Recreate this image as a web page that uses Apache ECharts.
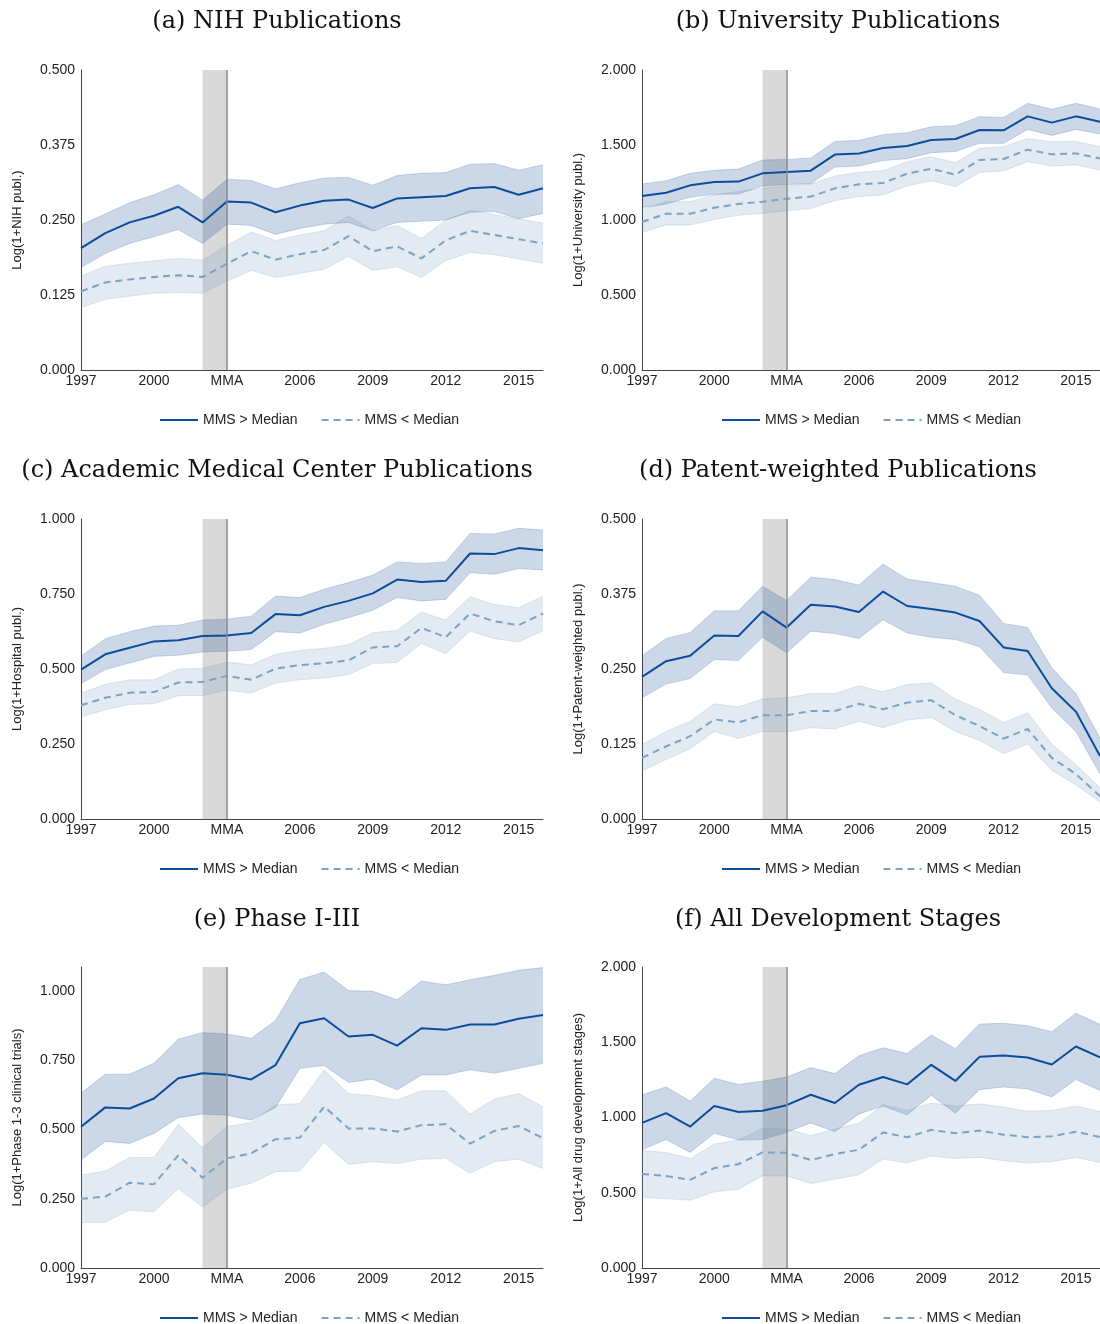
<!DOCTYPE html>
<html>
<head>
<meta charset="utf-8">
<script src="https://cdn.jsdelivr.net/npm/echarts@6/dist/echarts.min.js"></script>
<style>
html,body{margin:0;padding:0;background:#fff;}
#chart{width:1100px;height:1324px;}
</style>
</head>
<body>
<div id="chart"></div>
<script>
// ---------- data ----------
const years = ['1997','1998','1999','2000','2001','2002','2003','2004','2005','2006','2007','2008','2009','2010','2011','2012','2013','2014','2015','2016'];
const legendNames = ['MMS > Median', 'MMS < Median'];
const titles = ['(a) NIH Publications','(b) University Publications','(c) Academic Medical Center Publications','(d) Patent-weighted Publications','(e) Phase I-III','(f) All Development Stages'];
const yNames = ['Log(1+NIH publ.)','Log(1+University publ.)','Log(1+Hospital publ.)','Log(1+Patent-weighted publ.)','Log(1+Phase 1-3 clinical trials)','Log(1+All drug development stages)'];
const yMax = [0.5, 2, 1, 0.5, 1.087, 2];
const yInterval = [0.125, 0.5, 0.25, 0.125, 0.25, 0.5];

// (a)
const aHiMean = [0.203,0.228,0.246,0.257,0.272,0.246,0.281,0.279,0.263,0.274,0.282,0.284,0.270,0.286,0.288,0.290,0.303,0.305,0.292,0.303];
const aHiLo   = [0.171,0.194,0.211,0.222,0.234,0.211,0.243,0.241,0.226,0.236,0.243,0.246,0.232,0.246,0.248,0.250,0.263,0.264,0.252,0.261];
const aHiHi   = [0.242,0.260,0.279,0.292,0.309,0.283,0.318,0.316,0.302,0.312,0.320,0.321,0.308,0.324,0.328,0.329,0.343,0.344,0.333,0.342];
const aLoMean = [0.131,0.146,0.151,0.155,0.158,0.155,0.177,0.198,0.184,0.193,0.200,0.223,0.198,0.206,0.186,0.216,0.232,0.225,0.218,0.211];
const aLoLo   = [0.104,0.118,0.123,0.128,0.129,0.128,0.148,0.166,0.154,0.161,0.168,0.189,0.166,0.172,0.154,0.182,0.196,0.192,0.185,0.178];
const aLoHi   = [0.157,0.173,0.178,0.182,0.186,0.183,0.208,0.230,0.216,0.225,0.232,0.257,0.232,0.241,0.219,0.250,0.266,0.259,0.252,0.245];
// (b)
const bHiMean = [1.160,1.182,1.231,1.253,1.256,1.311,1.320,1.329,1.436,1.444,1.480,1.493,1.533,1.540,1.600,1.598,1.691,1.649,1.691,1.655];
const bHiLo   = [1.082,1.107,1.151,1.171,1.173,1.227,1.236,1.242,1.353,1.360,1.396,1.409,1.449,1.456,1.511,1.511,1.604,1.564,1.604,1.573];
const bHiHi   = [1.240,1.262,1.311,1.331,1.340,1.400,1.404,1.413,1.524,1.531,1.569,1.582,1.622,1.629,1.689,1.684,1.778,1.738,1.778,1.740];
const bLoMean = [0.987,1.042,1.042,1.082,1.107,1.122,1.142,1.156,1.211,1.238,1.247,1.309,1.342,1.302,1.400,1.407,1.469,1.438,1.444,1.410];
const bLoLo   = [0.916,0.967,0.967,1.004,1.031,1.044,1.062,1.076,1.129,1.156,1.167,1.227,1.262,1.222,1.316,1.327,1.389,1.360,1.367,1.333];
const bLoHi   = [1.067,1.122,1.124,1.167,1.191,1.211,1.227,1.240,1.293,1.318,1.329,1.389,1.422,1.382,1.478,1.489,1.544,1.522,1.524,1.490];
// (c)
const cHiMean = [0.498,0.549,0.571,0.592,0.596,0.610,0.612,0.620,0.683,0.679,0.707,0.727,0.752,0.798,0.790,0.794,0.885,0.883,0.903,0.896];
const cHiLo   = [0.451,0.498,0.520,0.542,0.546,0.557,0.559,0.565,0.624,0.620,0.649,0.671,0.696,0.738,0.727,0.732,0.821,0.816,0.835,0.830];
const cHiHi   = [0.543,0.601,0.624,0.643,0.646,0.663,0.666,0.676,0.743,0.738,0.766,0.788,0.813,0.857,0.852,0.857,0.952,0.950,0.969,0.963];
const cLoMean = [0.379,0.404,0.421,0.423,0.455,0.457,0.477,0.464,0.501,0.513,0.519,0.529,0.572,0.576,0.637,0.606,0.685,0.659,0.646,0.685];
const cLoLo   = [0.340,0.364,0.382,0.384,0.411,0.412,0.429,0.420,0.453,0.464,0.470,0.481,0.518,0.522,0.585,0.551,0.626,0.601,0.590,0.627];
const cLoHi   = [0.420,0.449,0.464,0.464,0.500,0.502,0.523,0.514,0.549,0.562,0.569,0.581,0.621,0.629,0.690,0.663,0.741,0.715,0.704,0.743];
// (d)
const dHiMean = [0.237,0.263,0.272,0.306,0.305,0.346,0.319,0.357,0.354,0.345,0.379,0.355,0.350,0.344,0.330,0.286,0.280,0.218,0.179,0.105];
const dHiLo   = [0.202,0.225,0.234,0.266,0.264,0.303,0.277,0.313,0.309,0.301,0.332,0.310,0.303,0.299,0.287,0.244,0.240,0.185,0.146,0.075];
const dHiHi   = [0.272,0.301,0.311,0.347,0.347,0.388,0.364,0.403,0.399,0.390,0.425,0.400,0.394,0.388,0.373,0.326,0.319,0.252,0.209,0.135];
const dLoMean = [0.102,0.121,0.138,0.166,0.161,0.173,0.173,0.180,0.180,0.192,0.183,0.194,0.198,0.173,0.155,0.134,0.150,0.102,0.075,0.038];
const dLoLo   = [0.080,0.099,0.117,0.146,0.134,0.146,0.145,0.152,0.150,0.163,0.152,0.165,0.169,0.146,0.131,0.109,0.125,0.081,0.057,0.028];
const dLoHi   = [0.124,0.146,0.163,0.192,0.187,0.200,0.202,0.209,0.209,0.222,0.212,0.224,0.227,0.200,0.183,0.161,0.177,0.125,0.091,0.052];
// (e)
const eHiMean = [0.510,0.580,0.576,0.612,0.685,0.703,0.698,0.681,0.733,0.884,0.902,0.836,0.842,0.803,0.866,0.860,0.879,0.879,0.900,0.914];
const eHiLo   = [0.390,0.457,0.450,0.486,0.543,0.556,0.552,0.534,0.580,0.721,0.731,0.670,0.682,0.643,0.697,0.697,0.716,0.703,0.721,0.739];
const eHiHi   = [0.632,0.700,0.700,0.739,0.827,0.850,0.845,0.830,0.894,1.042,1.069,1.002,0.999,0.969,1.036,1.023,1.041,1.057,1.075,1.085];
const eLoMean = [0.250,0.258,0.308,0.302,0.407,0.326,0.396,0.414,0.465,0.471,0.583,0.504,0.504,0.493,0.516,0.519,0.449,0.495,0.513,0.469];
const eLoLo   = [0.163,0.165,0.209,0.203,0.287,0.220,0.284,0.306,0.348,0.350,0.453,0.374,0.384,0.377,0.393,0.396,0.342,0.384,0.393,0.359];
const eLoHi   = [0.336,0.350,0.399,0.399,0.519,0.435,0.511,0.525,0.589,0.594,0.716,0.630,0.622,0.607,0.640,0.640,0.556,0.610,0.630,0.582];
// (f)
const fHiMean = [0.964,1.029,0.940,1.076,1.036,1.045,1.082,1.151,1.096,1.218,1.269,1.220,1.350,1.243,1.403,1.412,1.399,1.352,1.472,1.400];
const fHiLo   = [0.786,0.853,0.768,0.895,0.851,0.853,0.902,0.964,0.906,1.024,1.076,1.018,1.147,1.029,1.185,1.203,1.189,1.136,1.252,1.180];
const fHiHi   = [1.151,1.203,1.109,1.261,1.220,1.241,1.269,1.332,1.292,1.410,1.463,1.425,1.548,1.459,1.621,1.626,1.610,1.570,1.693,1.620];
const fLoMean = [0.624,0.612,0.586,0.664,0.690,0.768,0.766,0.717,0.757,0.786,0.900,0.869,0.918,0.895,0.913,0.886,0.869,0.875,0.906,0.870];
const fLoLo   = [0.468,0.461,0.450,0.506,0.523,0.612,0.612,0.561,0.590,0.619,0.724,0.697,0.744,0.728,0.735,0.713,0.697,0.706,0.735,0.700];
const fLoHi   = [0.780,0.768,0.728,0.824,0.851,0.929,0.924,0.880,0.924,0.962,1.085,1.047,1.096,1.076,1.091,1.069,1.042,1.047,1.076,1.040];

const panelData = [
  [aHiMean,aHiLo,aHiHi,aLoMean,aLoLo,aLoHi],
  [bHiMean,bHiLo,bHiHi,bLoMean,bLoLo,bLoHi],
  [cHiMean,cHiLo,cHiHi,cLoMean,cLoLo,cLoHi],
  [dHiMean,dHiLo,dHiHi,dLoMean,dLoLo,dLoHi],
  [eHiMean,eHiLo,eHiHi,eLoMean,eLoLo,eLoHi],
  [fHiMean,fHiLo,fHiHi,fLoMean,fLoLo,fLoHi]
];

// ---------- layout / style ----------
const gridLeft = [81, 642];
const gridTop = [70, 519, 967];
const gridH = [300, 300, 301];
const titleX = [272, 833];
const titleY = [5, 454, 903];
const legendX = [154, 716];
const legendY = [408, 857, 1306];

const darkBlue = '#0b4c9c';
const lightBlue = '#7ba2c4';
const bandHi = 'rgba(0,60,140,0.2)';
const bandLo = 'rgba(100,140,180,0.18)';
const edgeHi = 'rgba(0,60,140,0.22)';
const edgeLo = 'rgba(100,140,180,0.22)';
const sans = '"Liberation Sans", Arial, sans-serif';

const grids = [], xAxes = [], yAxes = [], series = [], titleArr = [], legends = [];

for (let p = 0; p < 6; p++) {
  const col = p % 2, row = Math.floor(p / 2);
  grids.push({left: gridLeft[col], top: gridTop[row], width: 462, height: gridH[row], containLabel: false});
  xAxes.push({
    type: 'category', gridIndex: p, data: years, boundaryGap: false,
    axisLine: {lineStyle: {color: '#444', width: 1}},
    axisTick: {show: false},
    axisLabel: {interval: 2, color: '#222', fontSize: 14, fontFamily: sans, margin: 4,
      formatter: v => v === '2003' ? 'MMA' : v},
    splitLine: {show: false}
  });
  yAxes.push({
    type: 'value', gridIndex: p, min: 0, max: yMax[p], interval: yInterval[p],
    name: yNames[p], nameLocation: 'middle', nameGap: 57,
    nameTextStyle: {color: '#222', fontSize: 13, fontFamily: sans},
    axisLine: {show: true, lineStyle: {color: '#444', width: 1}},
    axisTick: {show: false},
    splitLine: {show: false},
    axisLabel: {color: '#222', fontSize: 14, fontFamily: sans, margin: 6, showMaxLabel: yMax[p] % yInterval[p] === 0 ? true : false,
      formatter: v => v.toFixed(3)}
  });
  titleArr.push({text: titles[p], left: titleX[col], top: titleY[row], textAlign: 'center',
    textStyle: {fontFamily: '"DejaVu Serif", serif', fontWeight: 'normal', fontSize: 24, color: '#111'}});
  legends.push({left: legendX[col], top: legendY[row], data: legendNames, itemWidth: 38, itemHeight: 14, itemGap: 23,
    itemStyle: {opacity: 0},
    textStyle: {fontSize: 14, fontFamily: sans, color: '#222'}, selectedMode: false});

  const [hm, hl, hh, lm, ll, lh] = panelData[p];
  const base = {xAxisIndex: p, yAxisIndex: p, type: 'line', symbol: 'none', silent: true};
  // MMA shading + line
  series.push(Object.assign({}, base, {
    name: 'mma' + p, data: hl, z: 1, lineStyle: {width: 0, opacity: 0},
    markArea: {silent: true, itemStyle: {color: '#d9d9d9'}, data: [[{xAxis: '2002'}, {xAxis: '2003'}]]},
    markLine: {silent: true, symbol: 'none', label: {show: false}, lineStyle: {color: '#8a8a8a', width: 1.5, type: 'solid'}, data: [{xAxis: '2003'}]}
  }));
  // high band
  series.push(Object.assign({}, base, {name: 'hb' + p, data: hl, stack: 'hi' + p, z: 2, lineStyle: {color: edgeHi, width: 0.8}}));
  series.push(Object.assign({}, base, {name: 'hb2' + p, data: hh.map((v, i) => +(v - hl[i]).toFixed(4)), stack: 'hi' + p, z: 2,
    lineStyle: {color: edgeHi, width: 0.8}, areaStyle: {color: bandHi, opacity: 1}}));
  // low band
  series.push(Object.assign({}, base, {name: 'lb' + p, data: ll, stack: 'lo' + p, z: 2, lineStyle: {color: edgeLo, width: 0.8}}));
  series.push(Object.assign({}, base, {name: 'lb2' + p, data: lh.map((v, i) => +(v - ll[i]).toFixed(4)), stack: 'lo' + p, z: 2,
    lineStyle: {color: edgeLo, width: 0.8}, areaStyle: {color: bandLo, opacity: 1}}));
  // mean lines
  series.push(Object.assign({}, base, {name: legendNames[0], data: hm, z: 4, itemStyle: {color: darkBlue},
    lineStyle: {color: darkBlue, width: 2}}));
  series.push(Object.assign({}, base, {name: legendNames[1], data: lm, z: 3, itemStyle: {color: lightBlue},
    lineStyle: {color: lightBlue, width: 2, type: [7, 5]}}));
}

const chart = echarts.init(document.getElementById('chart'), null, {renderer: 'canvas'});
chart.setOption({
  animation: false,
  backgroundColor: '#fff',
  title: titleArr,
  legend: legends,
  grid: grids,
  xAxis: xAxes,
  yAxis: yAxes,
  series: series
});
</script>
</body>
</html>
